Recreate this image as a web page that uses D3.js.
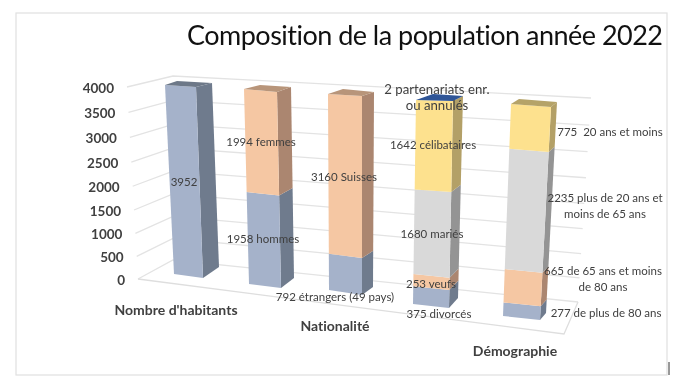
<!DOCTYPE html>
<html><head><meta charset="utf-8">
<script src="https://cdn.jsdelivr.net/npm/d3@7/dist/d3.min.js"></script>
<style>html,body{margin:0;padding:0;background:#fff}svg{display:block;filter:blur(.3px)}text{font-family:Lato,"Open Sans",sans-serif;font-variant-ligatures:none}</style>
</head><body><div id="c"></div>
<script>
// ---- data ----
const categories = ["Nombre d'habitants", "Nationalité", "Démographie"];
const title = "Composition de la population année 2022";
const tickValues = [0, 500, 1000, 1500, 2000, 2500, 3000, 3500, 4000];
const columns = ["total", "sexe", "nationalite", "etatCivil", "age"];
const seriesA = [3952, 1958, 792, 375, 277];
const seriesB = [0, 1994, 3160, 253, 665];
const seriesC = [0, 0, 0, 1680, 2235];
const seriesD = [0, 0, 0, 1642, 775];
const seriesE = [0, 0, 0, 2, 0];
const labelLines = [
  ["3952"], ["1994 femmes"], ["1958 hommes"], ["3160 Suisses"], ["792 étrangers (49 pays)"],
  ["2 partenariats enr.", "ou annulés"], ["1642 célibataires"], ["1680 mariés"], ["253 veufs"], ["375 divorcés"],
  ["775  20 ans et moins"], ["2235 plus de 20 ans et", "moins de 65 ans"],
  ["665 de 65 ans et moins", "de 80 ans"], ["277 de plus de 80 ans"]
];

// ---- appearance / layout ----
const W = 680, H = 387;
const colors = {
  front: ["#a5b2ca", "#f5c7a3", "#d9d9d9", "#fde18e", "#4472c4"],
  side:  ["#6f7b8d", "#ab8670", "#949494", "#b3a067", "#2f5597"],
  top:   ["#6d7888", "#b8957a", "#9a9a9a", "#b5a368", "#2f5597"]
};
// projected corners of each column: [x at 0, y at 0, x at full height, y at full height]
const cFL = [[174,274,165,85],[249,284,244,89],[329,290,328,94],[413,304,416,100],[503,316,511,104]];
const cFR = [[203,278,196,87],[281,288,277,92],[362,295,362,96],[449,308,453,101],[540,320,551,107]];
const cSR = [[219,267,212,83],[294,278,291,87],[373,287,374,92],[458,298,463,96],[546,313,557,102]];
const cBLtop = [[177,81],[260,85],[343,89],[433,94],[519,99]];
const labelPos = [[184,186],[261,146],[263,243],[344,181],[335,301],[437,94],[433,149],[432,238],[431,288],[439,318],[610,136],[605,202],[603,275],[606,317]];
const labelSize = [11.5,11.5,11.5,11.5,11.5,13.2,11.5,11.5,11.5,11.5,11.5,11.5,11.5,11.5];
const catPos = [[176,315],[335,331],[515,356]];

// plot box walls: [x at 0, y at 0, x at 4000, y at 4000]
const wallFront = [138,279,127,87];
const wallBack  = [173,260,173,76];
const wallRight = [578,302,591,98];
const floorFrontRight = [564,334];

const svg = d3.select("#c").append("svg").attr("width", W).attr("height", H);
svg.append("rect").attr("width", W).attr("height", H).attr("fill", "#fff");

// frame
svg.append("rect").attr("x",16).attr("y",13).attr("width",651).attr("height",362)
  .attr("fill","#fff").attr("stroke","#e0e0e0").attr("stroke-width",1.2);
svg.append("line").attr("x1",669).attr("x2",669).attr("y1",362).attr("y2",375).attr("stroke","#333").attr("stroke-width",1);

// perspective warp of a value on the vertical axis
const warp = k => t => t / (t + k * (1 - t));
function cornerScale(c, dom, k) {
  const w = warp(k), sx = d3.scaleLinear().domain([0,1]).range([c[0],c[2]]), sy = d3.scaleLinear().domain([0,1]).range([c[1],c[3]]);
  const norm = d3.scaleLinear().domain([0,dom]).range([0,1]).clamp(true);
  return v => [sx(w(norm(v))), sy(w(norm(v)))];
}

// grid
const yMax = 4000;
const pF = cornerScale(wallFront, yMax, 1.07), pB = cornerScale(wallBack, yMax, 1.07), pR = cornerScale(wallRight, yMax, 1.07);
const line = d3.line();
const grid = svg.append("g").attr("fill","none").attr("stroke","#e3e3e3").attr("stroke-width",1.3);
grid.selectAll("path").data(tickValues).join("path").attr("d", v => line([pF(v), pB(v), pR(v)]));
svg.append("path").attr("fill","none").attr("stroke","#dedede").attr("stroke-width",1.3)
  .attr("d", line([pF(0), floorFrontRight, pR(0)]));

// axis labels
svg.append("g").selectAll("text").data(tickValues).join("text")
  .attr("x", v => pF(v)[0] - 13).attr("y", v => pF(v)[1] + 5.5)
  .attr("text-anchor","end").attr("font-size",13.5).attr("font-weight",700).attr("fill","#404040")
  .text(d => d);

// columns
const rows = columns.map((c,i) => ({c, a:seriesA[i], b:seriesB[i], d:seriesC[i], e:seriesD[i], f:seriesE[i]}));
const stacked = d3.stack().keys(["a","b","d","e","f"])(rows);
const bars = svg.append("g");
columns.forEach((col, i) => {
  const total = d3.max(stacked, s => s[i][1]);
  const fl = cornerScale(cFL[i], total, 1.1), fr = cornerScale(cFR[i], total, 1.1), sr = cornerScale(cSR[i], total, 1.1);
  const g = bars.append("g");
  const segs = stacked.map((s, si) => ({si, y0:s[i][0], y1:s[i][1]})).filter(d => d.y1 > d.y0);
  g.selectAll(".side").data(segs).join("path").attr("fill", d => colors.side[d.si])
    .attr("d", d => line([fr(d.y0), sr(d.y0), sr(d.y1), fr(d.y1)]) + "Z");
  g.selectAll(".front").data(segs).join("path").attr("fill", d => colors.front[d.si])
    .attr("d", d => line([fl(d.y0), fr(d.y0), fr(d.y1), fl(d.y1)]) + "Z");
  const topSeg = segs[segs.length-1];
  g.append("path").attr("fill", colors.top[topSeg.si])
    .attr("d", line([fl(total), fr(total), sr(total), cBLtop[i]]) + "Z");
});

// data labels
labelLines.forEach((ls, i) => {
  const t = svg.append("text").attr("text-anchor","middle").attr("font-size",labelSize[i]).attr("fill","#404040")
    .attr("transform", `translate(${labelPos[i][0]},${labelPos[i][1]})`);
  ls.forEach((l, j) => t.append("tspan").attr("x",0).attr("y", j*16.4).attr("xml:space","preserve").text(l));
});

// category labels
svg.append("g").selectAll("text").data(categories).join("text")
  .attr("x",(d,i)=>catPos[i][0]).attr("y",(d,i)=>catPos[i][1])
  .attr("text-anchor","middle").attr("font-size",14).attr("font-weight",700).attr("fill","#404040").text(d=>d);

// title
svg.append("text").attr("x",187).attr("y",45).attr("font-size",27).attr("fill","#111")
  .attr("textLength",476).text(title);
</script></body></html>
